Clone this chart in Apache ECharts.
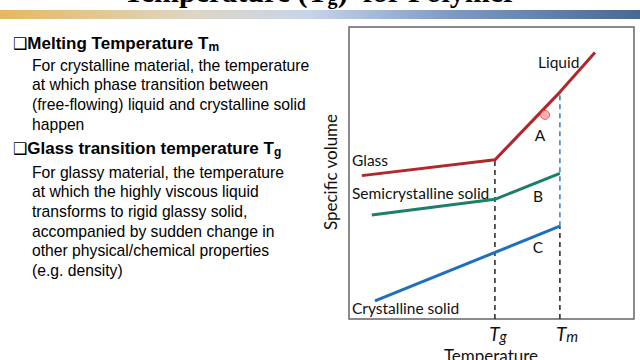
<!DOCTYPE html>
<html><head><meta charset="utf-8">
<script src="https://cdn.jsdelivr.net/npm/echarts@6/dist/echarts.min.js"></script>
<style>html,body{margin:0;padding:0;background:#fff}#c{width:640px;height:360px}</style>
</head><body><div id="c"></div>
<script>
// Data (Temperature 0-100 on x, Specific volume 0-100 on y)
const Tg = 51.2;
const Tm = 74.0;
const glassX = [4.5, 51.2, 74.0, 86.3];
const glassY = [49.1, 54.5, 77.7, 91.3];
const semiX = [8.0, 51.2, 74.0];
const semiY = [35.6, 41.0, 49.9];
const crystX = [9.1, 74.0];
const crystY = [6.2, 31.8];
const pointer = [68.8, 69.9];
const xTickLabels = ['g', 'm'];

const zip = (xs, ys) => xs.map((x, i) => [x, ys[i]]);
const chart = echarts.init(document.getElementById('c'), null, {renderer: 'svg'});
const chartFont = 'Lato, "Open Sans", sans-serif';
const slideFont = '"Liberation Sans", Arial, sans-serif';

const body1 = ['For crystalline material, the temperature', 'at which phase transition between', '(free-flowing) liquid and crystalline solid', 'happen'];
const body2 = ['For glassy material, the temperature', 'at which the highly viscous liquid', 'transforms to rigid glassy solid,', 'accompanied by sudden change in', 'other physical/chemical properties', '(e.g. density)'];

const graphics = [
  {type: 'rect', shape: {x: 0, y: 10, width: 640, height: 9}, style: {fill: new echarts.graphic.LinearGradient(0, 0, 1, 0, [
    {offset: 0, color: '#e6b85e'}, {offset: 0.3, color: '#ddd6c4'}, {offset: 0.48, color: '#c8d5ea'},
    {offset: 0.7, color: '#7f9bc4'}, {offset: 1, color: '#4a6894'}])}, z: 1},
  {type: 'text', x: 320, y: 7, z: 5, style: {text: '{t|Temperature (T}{s|g}{t|)  for Polymer}', align: 'center', verticalAlign: 'bottom',
    rich: {t: {font: 'bold 30px "Liberation Serif", "Times New Roman", serif', fill: '#000'}, s: {font: 'bold 20px "Liberation Serif", serif', fill: '#000', padding: [12, 0, 0, 0]}}}},
  {type: 'text', x: 13, y: 43, style: {text: '{b|❑}{h|Melting Temperature T}{s|m}', verticalAlign: 'middle',
    rich: {b: {font: '16px "DejaVu Sans"', fill: '#000'}, h: {font: 'bold 17px ' + slideFont, fill: '#000'}, s: {font: 'bold 12px ' + slideFont, fill: '#000', padding: [8, 0, 0, 0]}}}},
  {type: 'text', x: 13, y: 148, style: {text: '{b|❑}{h|Glass transition temperature T}{s|g}', verticalAlign: 'middle',
    rich: {b: {font: '16px "DejaVu Sans"', fill: '#000'}, h: {font: 'bold 17px ' + slideFont, fill: '#000'}, s: {font: 'bold 12px ' + slideFont, fill: '#000', padding: [8, 0, 0, 0]}}}},
];
body1.forEach((t, i) => graphics.push({type: 'text', x: 32, y: 65 + i * 19.7, style: {text: t, font: '15.7px ' + slideFont, fill: '#000', verticalAlign: 'middle'}}));
body2.forEach((t, i) => graphics.push({type: 'text', x: 32, y: 172 + i * 19.7, style: {text: t, font: '15.7px ' + slideFont, fill: '#000', verticalAlign: 'middle'}}));

const lab = (text, x, y, align) => ({type: 'text', x, y, z: 10, style: {text, font: '15.5px ' + chartFont, fill: '#111', align: align || 'left', verticalAlign: 'middle'}});
const tick = (sub, x) => ({type: 'text', x, y: 333, z: 10, style: {text: '{t|T}{s|' + sub + '}', align: 'center', verticalAlign: 'middle',
  rich: {t: {font: 'italic 19px ' + chartFont, fill: '#111'}, s: {font: 'italic 15px ' + chartFont, fill: '#111', padding: [5, 0, 0, 0]}}}});
graphics.push(
  lab('Liquid', 538, 62), lab('A', 540, 135, 'center'), lab('B', 538, 196, 'center'), lab('C', 538, 247, 'center'),
  lab('Glass', 352, 160), lab('Semicrystalline solid', 352, 193), lab('Crystalline solid', 352, 308),
  tick(xTickLabels[0], 498), tick(xTickLabels[1], 567),
  {type: 'text', x: 330, y: 172, rotation: Math.PI / 2, style: {text: 'Specific volume', font: '17px ' + chartFont, fill: '#111', align: 'center', verticalAlign: 'middle'}},
  {type: 'text', x: 491, y: 355, style: {text: 'Temperature', font: '17px ' + chartFont, fill: '#111', align: 'center', verticalAlign: 'middle'}}
);

chart.setOption({
  animation: false,
  grid: {left: 349, top: 27, right: 6, bottom: 41, show: true, borderColor: '#666', borderWidth: 1.5, backgroundColor: '#fff'},
  xAxis: {type: 'value', min: 0, max: 100, show: false},
  yAxis: {type: 'value', min: 0, max: 100, show: false},
  graphic: graphics,
  series: [
    {type: 'line', data: [[Tg, 0], [Tg, glassY[1]]], showSymbol: false, lineStyle: {color: '#222', width: 1.5, type: [5, 4]}, z: 2},
    {type: 'line', data: [[Tm, 0], [Tm, crystY[1]]], showSymbol: false, lineStyle: {color: '#222', width: 1.5, type: [5, 4]}, z: 2},
    {type: 'line', data: [[Tm, crystY[1]], [Tm, glassY[2]]], showSymbol: false, lineStyle: {color: '#2f7cc4', width: 1.5, type: [5, 4]}, z: 2},
    {type: 'line', name: 'Glass', data: zip(glassX, glassY), showSymbol: false, lineStyle: {color: '#b3262a', width: 3}, z: 3},
    {type: 'line', name: 'Semicrystalline solid', data: zip(semiX, semiY), showSymbol: false, lineStyle: {color: '#1c7f6c', width: 3}, z: 3},
    {type: 'line', name: 'Crystalline solid', data: zip(crystX, crystY), showSymbol: false, lineStyle: {color: '#1f6fbf', width: 3}, z: 3},
    {type: 'scatter', data: [pointer], symbolSize: 9, itemStyle: {color: 'rgba(255,140,140,0.85)', borderColor: '#e04040', borderWidth: 1}, z: 4}
  ]
});
</script></body></html>
